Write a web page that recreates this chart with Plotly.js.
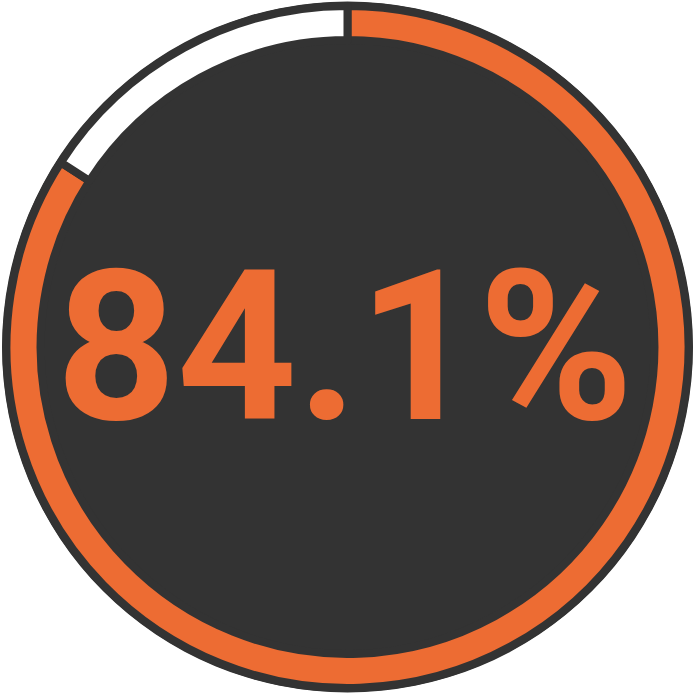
<!DOCTYPE html>
<html>
<head>
<meta charset="utf-8">
<script src="https://cdn.plot.ly/plotly-3.0.1.min.js"></script>
<style>
  html, body { margin: 0; padding: 0; background: #ffffff; }
  #chart { width: 695px; height: 694px; }
</style>
</head>
<body>
<div id="chart"></div>
<script>
var labels = ['Complete', 'Remaining'];
var values = [84.1, 15.9];
var sliceColors = ['#ed6c33', '#ffffff'];

var darkColor = '#333333';
var W = 695, H = 694;

window.addEventListener('load', function()
{
    var pct = values[0].toFixed(1) + '%';

    var ring = {
        type: 'pie',
        labels: labels,
        values: values,
        sort: false,
        direction: 'clockwise',
        rotation: 0,
        hole: 0.9,
        textinfo: 'none',
        hoverinfo: 'none',
        showlegend: false,
        marker: {
            colors: sliceColors,
            line: { color: darkColor, width: 8 }
        },
        domain: { x: [0, 1], y: [6 / H, 1 - 6 / H] }
    };

    var layout = {
        width: W,
        height: H,
        margin: { l: 0, r: 0, t: 0, b: 0 },
        paper_bgcolor: '#ffffff',
        shapes: [{
            type: 'circle',
            xref: 'paper', yref: 'paper',
            x0: 2 / W, x1: 693 / W,
            y0: 1.5 / H, y1: 692.5 / H,
            fillcolor: darkColor,
            line: { width: 0 },
            layer: 'below'
        }],
        annotations: [{
            text: '<b>' + pct + '</b>',
            xref: 'paper', yref: 'paper',
            x: 344.5 / W, y: 0.5,
            xanchor: 'center', yanchor: 'middle',
            showarrow: false,
            font: { family: 'Roboto', size: 210, color: sliceColors[0] }
        }]
    };

    Plotly.newPlot('chart', [ring], layout, { displayModeBar: false, staticPlot: true });
});
</script>
</body>
</html>
